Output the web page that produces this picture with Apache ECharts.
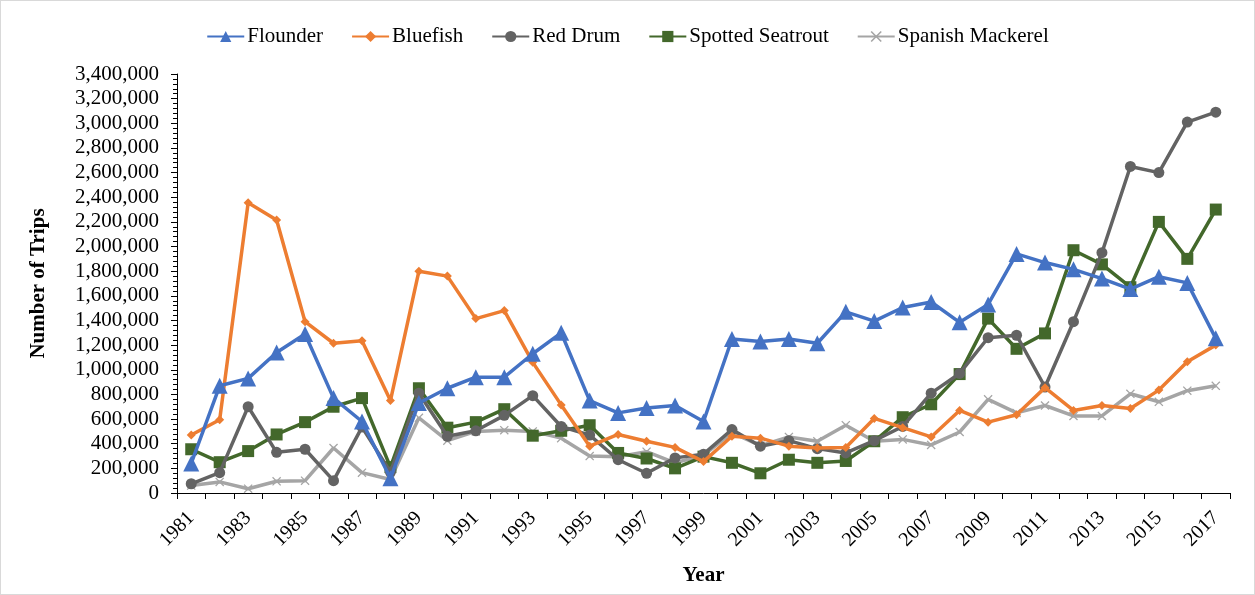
<!DOCTYPE html>
<html>
<head>
<meta charset="utf-8">
<script src="https://cdn.jsdelivr.net/npm/echarts@6/dist/echarts.min.js"></script>
<style>
html,body{margin:0;padding:0;background:#fff;}
#frame{position:absolute;left:0;top:0;width:1253px;height:593px;border:1px solid #d9d9d9;}
#chart{position:absolute;left:0;top:0;width:1255px;height:595px;}
</style>
</head>
<body>
<div id="frame"></div>
<div id="chart"></div>
<script>
const years = [];
for (let y = 1981; y <= 2017; y++) years.push(String(y));

const flounder = [240000, 870000, 930000, 1140000, 1290000, 770000, 580000, 120000, 730000, 850000,
  940000, 940000, 1130000, 1300000, 750000, 650000, 690000, 710000, 580000, 1250000,
  1230000, 1250000, 1215000, 1470000, 1395000, 1505000, 1550000, 1385000, 1530000, 1940000,
  1870000, 1815000, 1740000, 1655000, 1755000, 1705000, 1255000];
const bluefish = [470000, 595000, 2355000, 2215000, 1390000, 1215000, 1235000, 750000, 1800000, 1760000,
  1415000, 1480000, 1060000, 715000, 380000, 475000, 420000, 370000, 255000, 460000,
  445000, 380000, 365000, 370000, 605000, 530000, 455000, 670000, 575000, 635000,
  855000, 670000, 710000, 685000, 835000, 1065000, 1200000];
const redDrum = [75000, 165000, 700000, 330000, 355000, 100000, 535000, 170000, 810000, 460000,
  505000, 630000, 790000, 540000, 470000, 270000, 160000, 285000, 315000, 515000,
  380000, 425000, 360000, 325000, 425000, 540000, 810000, 970000, 1260000, 1280000,
  860000, 1390000, 1950000, 2650000, 2600000, 3010000, 3090000];
const seatrout = [355000, 250000, 340000, 475000, 575000, 700000, 770000, 210000, 850000, 530000,
  575000, 680000, 465000, 505000, 550000, 325000, 280000, 200000, 295000, 245000,
  160000, 270000, 245000, 260000, 420000, 615000, 720000, 965000, 1415000, 1170000,
  1295000, 1970000, 1855000, 1670000, 2200000, 1900000, 2300000];
const mackerel = [60000, 90000, 35000, 95000, 100000, 365000, 165000, 110000, 610000, 425000,
  500000, 510000, 500000, 445000, 300000, 295000, 335000, 245000, 305000, 490000,
  385000, 455000, 420000, 550000, 420000, 435000, 390000, 495000, 760000, 650000,
  710000, 625000, 625000, 805000, 740000, 830000, 870000];

const seriesNames = ['Flounder', 'Bluefish', 'Red Drum', 'Spotted Seatrout', 'Spanish Mackerel'];
const seriesData = [flounder, bluefish, redDrum, seatrout, mackerel];
const colors = ['#4472C4', '#ED7D31', '#636363', '#43682B', '#A5A5A5'];
const crossPath = 'path://M0,1L1,0L5,4L9,0L10,1L6,5L10,9L9,10L5,6L1,10L0,9L4,5Z';
const symbols = ['triangle', 'diamond', 'circle', 'rect', crossPath];
const symbolSizes = [16, 9, 11, 12, 9];

const FONT = '"Liberation Serif", "Times New Roman", serif';

const chart = echarts.init(document.getElementById('chart'));
chart.setOption({
  animation: false,
  color: colors,
  textStyle: { fontFamily: FONT },
  legend: {
    top: 21,
    left: 'center',
    itemWidth: 37,
    itemHeight: 14,
    itemGap: 28,
    textStyle: { fontFamily: FONT, fontSize: 21, color: '#000', padding: [0, 0, 0, -2] },
    data: seriesNames
  },
  grid: { left: 177, right: 25, top: 74, bottom: 102, containLabel: false },
  xAxis: {
    type: 'category',
    data: years,
    boundaryGap: true,
    name: 'Year',
    nameLocation: 'middle',
    nameGap: 72,
    nameTextStyle: { fontFamily: FONT, fontSize: 21, fontWeight: 'bold', color: '#000' },
    axisLine: { lineStyle: { color: '#000', width: 1 } },
    axisTick: { show: true, alignWithLabel: false, interval: 0, length: 6, lineStyle: { color: '#000' } },
    axisLabel: { interval: 1, rotate: 45, margin: 22, fontFamily: FONT, fontSize: 20, color: '#000' },
    splitLine: { show: false }
  },
  yAxis: {
    type: 'value',
    min: 0,
    max: 3400000,
    interval: 200000,
    name: 'Number of Trips',
    nameLocation: 'middle',
    nameGap: 128,
    nameTextStyle: { fontFamily: FONT, fontSize: 21, fontWeight: 'bold', color: '#000' },
    axisLine: { show: true, lineStyle: { color: '#000', width: 1 } },
    axisTick: { show: true, length: 6, lineStyle: { color: '#000' } },
    minorTick: { show: true, splitNumber: 5, length: 4, lineStyle: { color: '#000' } },
    axisLabel: {
      margin: 18,
      fontFamily: FONT, fontSize: 21, color: '#000',
      formatter: v => v.toString().replace(/\B(?=(\d{3})+(?!\d))/g, ',')
    },
    splitLine: { show: false }
  },
  series: seriesNames.map((n, i) => ({
    name: n,
    type: 'line',
    data: seriesData[i],
    symbol: symbols[i],
    symbolSize: symbolSizes[i],
    showAllSymbol: true,
    lineStyle: { width: 3.5, color: colors[i] },
    itemStyle: { color: colors[i], borderWidth: 0 },
    z: 10 - i
  }))
});
</script>
</body>
</html>
